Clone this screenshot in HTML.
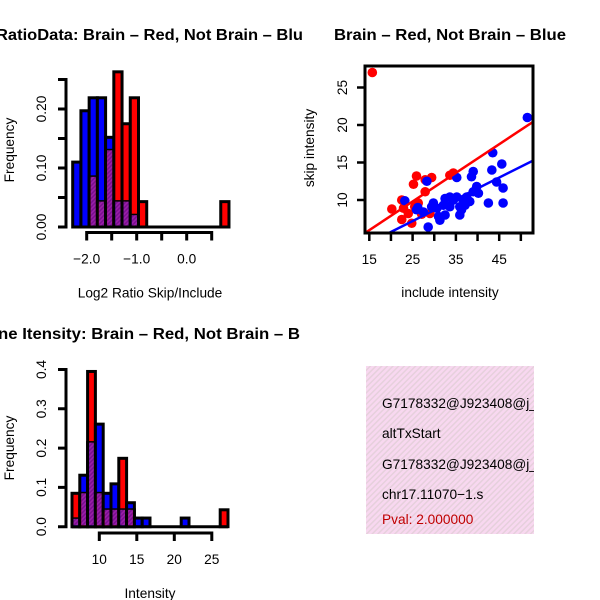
<!DOCTYPE html>
<html><head><meta charset="utf-8"><style>
html,body{margin:0;padding:0;background:#fff;}
svg{display:block;font-family:"Liberation Sans",sans-serif;}
</style></head><body>
<svg id="chart" width="600" height="600" viewBox="0 0 600 600" xmlns="http://www.w3.org/2000/svg">
<defs>
<pattern id="purp" width="3" height="3" patternUnits="userSpaceOnUse" patternTransform="rotate(45)">
<rect width="3" height="3" fill="#9a1fa8"/><rect width="1.5" height="3" fill="#7a1090"/>
</pattern>
<pattern id="pink" width="4" height="4" patternUnits="userSpaceOnUse" patternTransform="rotate(45)">
<rect width="4" height="4" fill="#f8d8f0"/><rect width="1.5" height="4" fill="#e6d0dc"/>
</pattern>
<clipPath id="clipL"><rect x="0" y="0" width="304" height="600"/></clipPath>
<clipPath id="clipS"><rect x="365" y="66" width="168" height="167"/></clipPath>
<clipPath id="clipT"><rect x="366" y="366" width="168" height="168"/></clipPath>
</defs>
<g id="titles" font-weight="bold" font-size="16">
<text x="-4" y="40" textLength="307" lengthAdjust="spacingAndGlyphs" clip-path="url(#clipL)">RatioData: Brain – Red, Not Brain – Blu</text>
<text x="334" y="40" textLength="232" lengthAdjust="spacingAndGlyphs">Brain – Red, Not Brain – Blue</text>
<text x="-2" y="339" textLength="302" lengthAdjust="spacingAndGlyphs" clip-path="url(#clipL)">ne Itensity: Brain – Red, Not Brain – B</text>
</g>
<g id="h1"></g>
<g id="h2"></g>
<g id="sc"></g>
<g id="info">
<rect x="366" y="366" width="168" height="168" fill="url(#pink)"/>
<g clip-path="url(#clipT)" font-size="13.7">
<text x="382" y="408">G7178332@J923408@j_</text>
<text x="382" y="438">altTxStart</text>
<text x="382" y="469">G7178332@J923408@j_</text>
<text x="382" y="499">chr17.11070−1.s</text>
<text x="382" y="524" fill="#c00000">Pval: 2.000000</text>
</g>
</g>
</svg>
<script>
// Ratio histogram data
const ratioBinStart = -2.28;
const ratioBinWidth = 0.1645;
const ratioBlue = [0.11,0.197,0.219,0.219,0.152,0.043,0.043,0.02,0,0,0,0,0,0,0,0,0,0,0];
const ratioRed  = [0,0,0.085,0.043,0.13,0.263,0.175,0.219,0.043,0,0,0,0,0,0,0,0,0,0.043];
const ratioXTicks = [-2.0,-1.5,-1.0,-0.5,0.0,0.5];
const ratioXLabels = ["−2.0","","−1.0","","0.0",""];
const ratioYTicks = [0,0.05,0.10,0.15,0.20,0.25];
const ratioYLabels = ["0.00","","0.10","","0.20",""];
// Intensity histogram data
const intBinStart = 6.36;
const intBinWidth = 1.04;
const intBlue = [0.02,0.131,0.214,0.261,0.085,0.109,0.043,0.061,0.022,0.022,0,0,0,0,0.022,0,0,0,0,0];
const intRed  = [0.085,0.085,0.395,0.085,0.043,0.043,0.174,0.043,0,0,0,0,0,0,0,0,0,0,0,0.043];
const intXTicks = [10,15,20,25];
const intXLabels = ["10","15","20","25"];
const intYTicks = [0,0.1,0.2,0.3,0.4];
const intYLabels = ["0.0","0.1","0.2","0.3","0.4"];
// Scatter data
const redX = [15.7,20.2,22.5,22.9,22.5,24.8,25.2,25.9,25.5,26.3,27.9,27.9,29.4,29.0,33.6,34.4,24.0,27.1];
const redY = [27.0,8.8,10.0,8.9,7.4,6.9,12.1,13.2,9.1,9.6,11.1,12.7,13.0,8.2,13.3,13.6,8.2,8.1];
const blueX = [51.5,43.5,45.6,43.3,39.0,38.6,35.2,28.3,44.4,45.9,39.8,40.2,23.2,25.9,42.5,45.9,28.6,29.8,29.4,31.0,31.3,32.5,32.5,33.6,33.6,35.2,35.9,35.9,36.7,37.5,38.2,39.0,32.1,30.6,37.1,34.4,36.3,27.5,26.2];
const blueY = [21.0,16.3,14.8,14.0,13.8,13.1,13.0,12.5,12.4,11.6,11.8,10.9,9.9,8.7,9.6,9.6,6.4,9.6,9.1,7.8,7.3,8.0,10.2,10.4,9.1,10.4,9.1,8.0,10.0,10.4,9.8,11.1,9.3,8.9,9.3,10.0,8.7,8.4,9.0];
const redFit = [0.25,0.382];   // intercept, slope
const blueFit = [-0.06,0.29];
const scXTicks = [15,20,25,30,35,40,45,50];
const scXLabels = ["15","","25","","35","","45",""];
const scYTicks = [10,15,20,25];
const scYLabels = ["10","15","20","25"];

const FS = 13.7;
const NS="http://www.w3.org/2000/svg";
function mk(parent,tag,attrs){const e=document.createElementNS(NS,tag);for(const k in attrs)e.setAttribute(k,attrs[k]);parent.appendChild(e);return e;}

function drawHist(g,start,width,blue,red,xs,ys,xTicks,xLabels,yTicks,yLabels,axisY,xlab,ylabX,ylabY,names){
  const n=Math.max(blue.length,red.length);
  const y0=ys(0);
  const base=mk(g,'line',{x1:xs(start),x2:xs(start+n*width),y1:y0,y2:y0,stroke:'#000','stroke-width':3});
  
  
  for(let i=0;i<n;i++){
    const b=blue[i]||0,r=red[i]||0;
    const x1=xs(start+i*width),x2=xs(start+(i+1)*width);
    const order=b>=r?[['#0000ff',b,'blue'],['#ff0000',r,'red']]:[['#ff0000',r,'red'],['#0000ff',b,'blue']];
    order.forEach(o=>{ if(o[1]>0){
      const el=mk(g,'rect',{x:x1,y:ys(o[1]),width:x2-x1,height:y0-ys(o[1]),fill:o[0],stroke:'#000','stroke-width':3});
      
      
    }});
    const m=Math.min(b,r);
    if(m>0){
      const el=mk(g,'rect',{x:x1+1.5,y:ys(m),width:x2-x1-3,height:y0-ys(m)-1.5,fill:'url(#purp)'});
      
      
    }
  }
  const xa=mk(g,'path',{d:`M${xs(xTicks[0])},${axisY+8}V${axisY}H${xs(xTicks[xTicks.length-1])}V${axisY+8}`+xTicks.slice(1,-1).map(t=>`M${xs(t)},${axisY}V${axisY+8}`).join(''),stroke:'#000','stroke-width':3,fill:'none'});
  
  
  xTicks.forEach((t,i)=>{ if(xLabels[i]){
    const tx=mk(g,'text',{x:xs(t),y:axisY+31,'text-anchor':'middle','font-size':FS});
    tx.textContent=xLabels[i];
    
    
  }});
  const xl=mk(g,'text',{x:150,y:axisY+65,'text-anchor':'middle','font-size':FS});
  xl.textContent=xlab;
  
  
  const ax=66;
  const ya=mk(g,'path',{d:`M${ax-8},${ys(yTicks[0])}H${ax}V${ys(yTicks[yTicks.length-1])}H${ax-8}`+yTicks.slice(1,-1).map(t=>`M${ax},${ys(t)}H${ax-8}`).join(''),stroke:'#000','stroke-width':3,fill:'none'});
  
  
  yTicks.forEach((t,i)=>{ if(yLabels[i]){
    const tx=mk(g,'text',{x:0,y:0,'text-anchor':'middle','font-size':FS,transform:`translate(46,${ys(t)}) rotate(-90)`});
    tx.textContent=yLabels[i];
    
    
  }});
  const yl=mk(g,'text',{x:0,y:0,'text-anchor':'middle','font-size':FS,transform:`translate(14,${ylabY}) rotate(-90)`});
  yl.textContent='Frequency';
  
  
}

const h1=document.getElementById('h1');
drawHist(h1,ratioBinStart,ratioBinWidth,ratioBlue,ratioRed,v=>186.7+50*v,f=>227-590*f,ratioXTicks,ratioXLabels,ratioYTicks,ratioYLabels,232.5,'Log2 Ratio Skip/Include',14,150,'ratio');
const h2=document.getElementById('h2');
drawHist(h2,intBinStart,intBinWidth,intBlue,intRed,v=>99.3+7.5*(v-10),f=>526.7-393*f,intXTicks,intXLabels,intYTicks,intYLabels,533,'Intensity',14,448,'intensity');

const sc=document.getElementById('sc');
const sx=x=>369.3+4.33*(x-15), sy=y=>200-7.5*(y-10);
const cg=mk(sc,'g',{'clip-path':'url(#clipS)'});


redX.forEach((x,i)=>{const c=mk(cg,'circle',{cx:sx(x),cy:sy(redY[i]),r:4.8,fill:'#ff0000'});
  
  });
blueX.forEach((x,i)=>{const c=mk(cg,'circle',{cx:sx(x),cy:sy(blueY[i]),r:4.8,fill:'#0000ff'});
  
  });
[[redFit,'#ff0000','brain-fit-line'],[blueFit,'#0000ff','not-brain-fit-line']].forEach(f=>{
  const l=mk(cg,'line',{x1:sx(10),y1:sy(f[0][0]+f[0][1]*10),x2:sx(60),y2:sy(f[0][0]+f[0][1]*60),stroke:f[1],'stroke-width':2.5});
  
  
});
const box=mk(sc,'rect',{x:365,y:66,width:168,height:167,fill:'none',stroke:'#000','stroke-width':3});


scXTicks.forEach((t,i)=>{
  const tk=mk(sc,'line',{x1:sx(t),x2:sx(t),y1:233,y2:241,stroke:'#000','stroke-width':2.5});
  
  
  if(scXLabels[i]){const tx=mk(sc,'text',{x:sx(t),y:264,'text-anchor':'middle','font-size':FS});tx.textContent=scXLabels[i];
    
    }
});
scYTicks.forEach((t,i)=>{
  const tk=mk(sc,'line',{x1:357,x2:365,y1:sy(t),y2:sy(t),stroke:'#000','stroke-width':2.5});
  
  
  const tx=mk(sc,'text',{x:0,y:0,'text-anchor':'middle','font-size':FS,transform:`translate(347,${sy(t)}) rotate(-90)`});tx.textContent=scYLabels[i];
  
  
});
const sxl=mk(sc,'text',{x:450,y:297,'text-anchor':'middle','font-size':FS});sxl.textContent='include intensity';


const syl=mk(sc,'text',{x:0,y:0,'text-anchor':'middle','font-size':FS,transform:'translate(314,148) rotate(-90)'});syl.textContent='skip intensity';


</script>
</body></html>
